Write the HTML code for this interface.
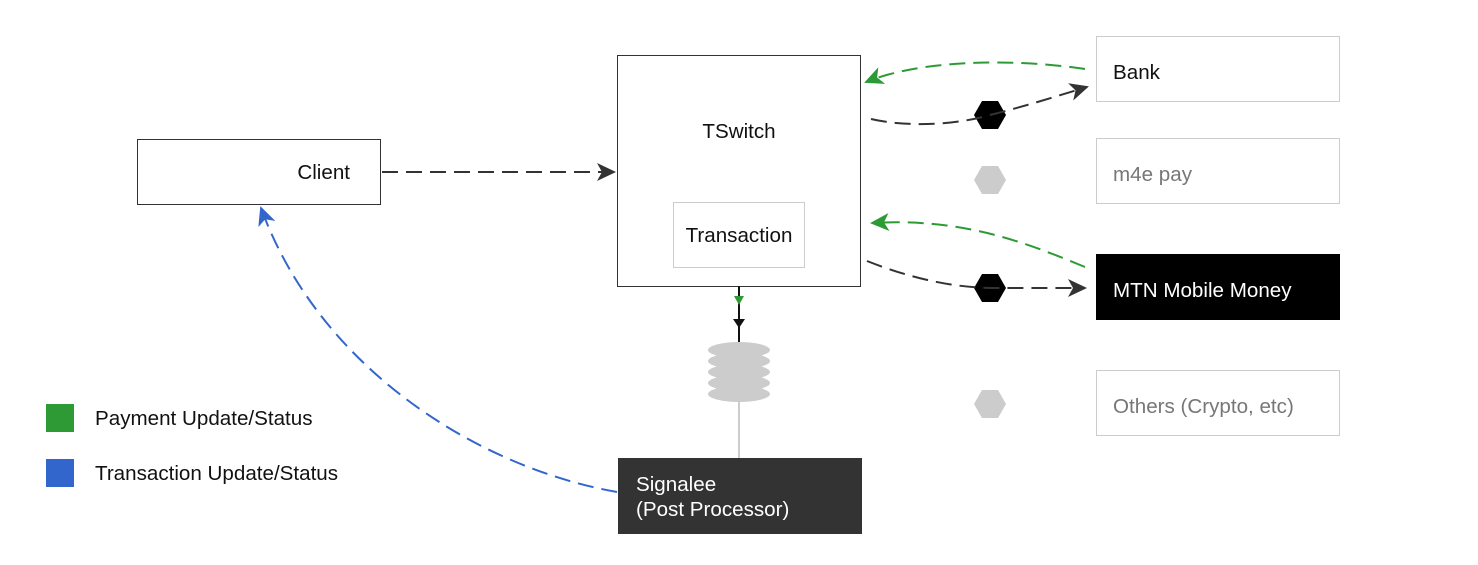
<!DOCTYPE html>
<html><head><meta charset="utf-8"><style>
html,body{margin:0;padding:0;background:#fff;}
svg{display:block;}
text{font-family:"Liberation Sans",Arial,sans-serif;}
</style></head><body>
<svg width="1478" height="565" viewBox="0 0 1478 565" xmlns="http://www.w3.org/2000/svg">
<defs>
<marker id="ak" markerWidth="20" markerHeight="18" refX="17" refY="9" orient="auto" markerUnits="userSpaceOnUse">
<path d="M0,0 L19,9 L0,18 L5,9 Z" fill="#333"/></marker>
<marker id="ag" markerWidth="20" markerHeight="18" refX="17" refY="9" orient="auto" markerUnits="userSpaceOnUse">
<path d="M0,0 L19,9 L0,18 L5,9 Z" fill="#2e9a35"/></marker>
<marker id="ab" markerWidth="20" markerHeight="18" refX="17" refY="9" orient="auto" markerUnits="userSpaceOnUse">
<path d="M0,0 L19,9 L0,18 L5,9 Z" fill="#3366cc"/></marker>
</defs>

<rect x="137.5" y="139.5" width="243" height="65" fill="#fff" stroke="#333" stroke-width="1"/>
<text x="350" y="179" font-size="20.6" text-anchor="end" fill="#111">Client</text>

<rect x="617.5" y="55.5" width="243" height="231" fill="#fff" stroke="#333" stroke-width="1"/>
<text x="739" y="138" font-size="20.6" text-anchor="middle" fill="#111">TSwitch</text>
<rect x="673.5" y="202.5" width="131" height="65" fill="#fff" stroke="#ccc" stroke-width="1"/>
<text x="739" y="242" font-size="20.6" text-anchor="middle" fill="#111">Transaction</text>

<rect x="1096.5" y="36.5" width="243" height="65" fill="#fff" stroke="#ccc"/>
<text x="1113" y="79" font-size="20.6" fill="#111">Bank</text>
<rect x="1096.5" y="138.5" width="243" height="65" fill="#fff" stroke="#ccc"/>
<text x="1113" y="181" font-size="20.6" fill="#777">m4e pay</text>
<rect x="1096" y="254" width="244" height="66" fill="#000"/>
<text x="1113" y="297" font-size="20.6" fill="#fff">MTN Mobile Money</text>
<rect x="1096.5" y="370.5" width="243" height="65" fill="#fff" stroke="#ccc"/>
<text x="1113" y="413" font-size="20.6" fill="#777">Others (Crypto, etc)</text>

<rect x="618" y="458" width="244" height="76" fill="#333"/>
<text x="636" y="491" font-size="20.6" fill="#fff">Signalee</text>
<text x="636" y="516" font-size="20.6" fill="#fff">(Post Processor)</text>

<line x1="739" y1="286" x2="739" y2="342" stroke="#111" stroke-width="2"/>
<path d="M734,296 L744,296 L739,305 Z" fill="#2e9a35"/>
<path d="M733,319 L745,319 L739,328 Z" fill="#111"/>
<line x1="739" y1="400" x2="739" y2="458" stroke="#ccc" stroke-width="2"/>
<g fill="#ccc">
<ellipse cx="739" cy="350" rx="31" ry="8"/>
<ellipse cx="739" cy="361" rx="31" ry="8"/>
<ellipse cx="739" cy="372" rx="31" ry="8"/>
<ellipse cx="739" cy="383" rx="31" ry="8"/>
<ellipse cx="739" cy="394" rx="31" ry="8"/>
</g>

<g>
<polygon points="974,115 982,101 998,101 1006,115 998,129 982,129" fill="#000"/>
<polygon points="974,180 982,166 998,166 1006,180 998,194 982,194" fill="#ccc"/>
<polygon points="974,288 982,274 998,274 1006,288 998,302 982,302" fill="#000"/>
<polygon points="974,404 982,390 998,390 1006,404 998,418 982,418" fill="#ccc"/>
</g>

<g fill="none" stroke-width="2" stroke-dasharray="16,8">
<line x1="382" y1="172" x2="614" y2="172" stroke="#333" marker-end="url(#ak)"/>
<path d="M1085,69 C1010,58 920,60 866,82" stroke="#2e9a35" marker-end="url(#ag)"/>
<path d="M871,119 C910,128 960,124 990,115 C1030,105 1060,95 1087,87" stroke="#333" marker-end="url(#ak)"/>
<path d="M1085,267 C1020,240 960,218 872,223" stroke="#2e9a35" marker-end="url(#ag)"/>
<path d="M867,261 C910,278 950,287 990,288 L1085,288" stroke="#333" marker-end="url(#ak)"/>
<path d="M617,492 C480,468 320,370 261,208" stroke="#3366cc" marker-end="url(#ab)"/>
</g>

<rect x="46" y="404" width="28" height="28" fill="#2e9a35"/>
<text x="95" y="425" font-size="20.6" fill="#111">Payment Update/Status</text>
<rect x="46" y="459" width="28" height="28" fill="#3366cc"/>
<text x="95" y="480" font-size="20.6" fill="#111">Transaction Update/Status</text>
</svg>
</body></html>
